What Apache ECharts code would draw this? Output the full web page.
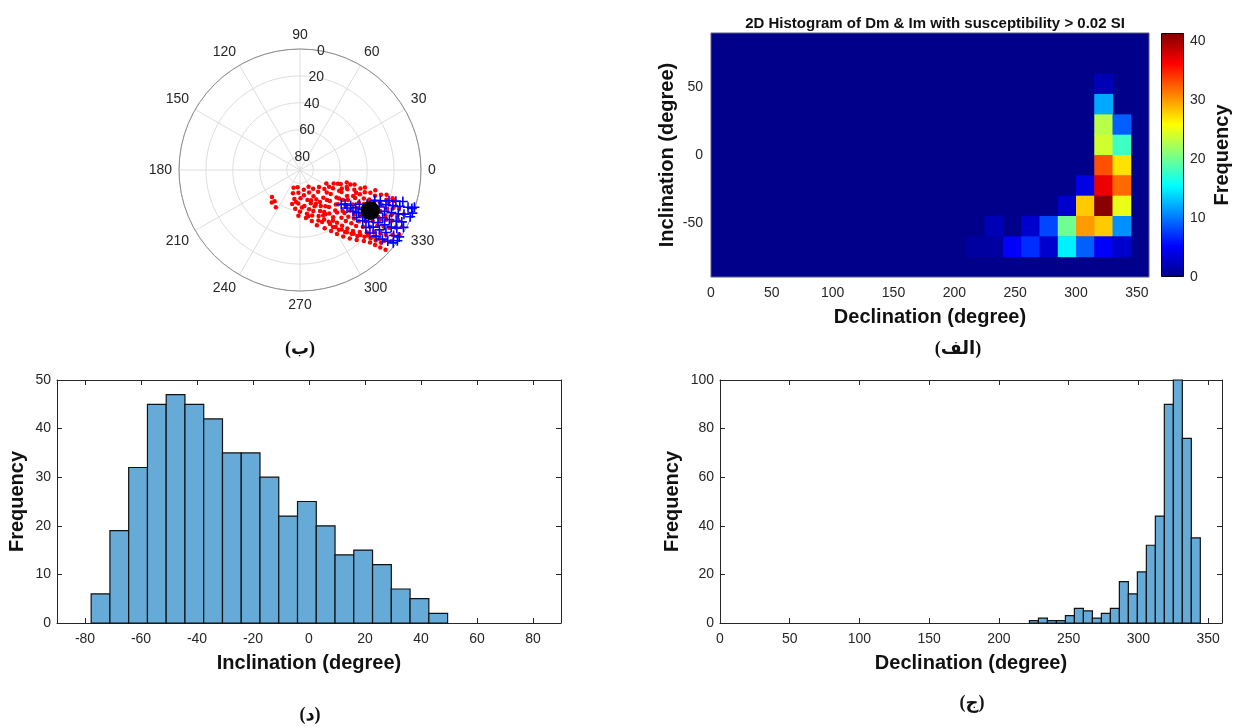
<!DOCTYPE html>
<html>
<head>
<meta charset="utf-8">
<script src="https://cdn.jsdelivr.net/npm/echarts@6/dist/echarts.min.js"></script>
<style>
html, body { margin: 0; padding: 0; background: #fff; }
#main { width: 1239px; height: 727px; }
</style>
</head>
<body>
<div id="main"></div>
<script>
// (ب) polar plot, points are [radial value, declination]
var redPoints = [
    [76,250],[77,262],[75,281],[76,297],
    [72,253],[73,266],[71,279],[72,292],[73,305],[71,318],
    [68,259],[69,271],[67,284],[68,297],[69,310],[67,322],[68,333],
    [64,257],[65,267],[63,277],[64,288],[65,299],[63,310],[64,320],[65,330],[63,338],
    [61,224],[60,231],[61,263],[62,273],[60,283],[61,292],[62,302],[60,312],[61,322],[62,331],[60,340],
    [58,229],[57,237],[56,268],[57,279],[58,288],[56,296],[57,305],[58,314],[56,323],[57,332],[58,341],
    [54,277],[55,285],[53,292],[54,300],[55,308],[53,316],[54,324],[55,332],[53,340],[54,345],
    [51,283],[50,290],[52,297],[51,304],[50,311],[52,318],[51,325],[50,331],[52,338],[51,344],
    [47,287],[48,293],[46,299],[47,305],[48,311],[46,316],[47,322],[48,328],[46,334],[47,340],[48,345],
    [43,293],[44,299],[42,305],[43,311],[44,316],[42,321],[43,327],[44,333],[42,338],[43,343],
    [39,297],[40,302],[38,307],[39,312],[40,316],[38,321],[39,326],[40,331],[38,336],[39,341],[40,345],
    [35,300],[36,305],[34,309],[35,314],[36,318],[34,323],[35,328],[36,332],[34,337],[35,342],
    [31,303],[32,307],[30,311],[31,315],[32,319],[30,324],[31,328],[32,333],[30,337],[31,341],[32,345],
    [27,306],[28,310],[26,314],[27,318],[28,322],[26,326],[27,330],[28,334],[26,338],[27,343],
    [23,309],[24,313],[22,317],[23,321],[24,325],[22,329],[23,333],[24,337],[22,341],[23,344],
    [19,312],[20,316],[18,320],[19,324],[20,328],[18,332],[19,336],[20,340],[18,343],
    [15,314],[16,318],[14,322],[15,326],[16,330],[14,334],[15,338],[16,342],
    [11,315],[12,319],[10,323],[11,327],[12,331],[10,335],[11,339],
    [7,316],[8,320],[6,325],[7,329],[8,333],[6,337],
    [3,317],[4,322],[2,327],[3,331],
    [66,263],[66,290],[62,295],[59,270],[59,300],[55,280],[52,300],[49,296],[45,303],[41,300],
    [37,303],[33,306],[29,309],[25,311],[21,314],[17,316],[13,317],[9,318],[56,336],[45,338]
];
var bluePoints = [
    [50,320],[48,323],[45,321],[44,325],[40,322],[40,326],[39,330],
    [35,320],[36,324],[35,328],[34,333],
    [30,321],[31,325],[30,329],[29,334],[30,338],
    [25,319],[26,323],[25,327],[24,331],[25,335],[26,339],
    [20,318],[21,322],[20,326],[19,330],[20,334],[21,338],[20,341],
    [15,319],[16,323],[15,327],[14,331],[15,335],[16,339],[15,342],
    [10,320],[11,324],[10,328],[9,332],[10,336],[11,340],[10,343],
    [6,321],[5,325],[6,329],[5,333],[6,337],[5,341],
    [2,322],[1,326],[2,331],[1,337],[2,341],
    [0.5,324],[0.5,339],[0.5,342]
];
var meanPoint = [[29.8, 330]];

// (الف) 2D histogram, bins of 15 degrees
var heatBin = 15;
var heatDec = [210, 225, 240, 255, 270, 285, 300, 315, 330];
var heatInc = [45, 30, 15, 0, -15, -30, -45, -60, -75];
var heatCounts = [
    [0, 0, 0, 0, 0, 0, 0, 2, 0],
    [0, 0, 0, 0, 0, 0, 0, 12, 0],
    [0, 0, 0, 0, 0, 0, 0, 23, 9],
    [0, 0, 0, 0, 0, 0, 0, 24, 18],
    [0, 0, 0, 0, 0, 0, 0, 33, 27],
    [0, 0, 0, 0, 0, 0, 4, 37, 32],
    [0, 0, 0, 0, 0, 3, 28, 41, 25],
    [0, 2, 0, 3, 8, 20, 30, 28, 11],
    [1, 1, 5, 7, 3, 15, 9, 5, 3]
];
var cbMax = 41.4;

// (د) inclination histogram
var incStart = -77.8, incWidth = 6.7;
var incCounts = [6, 19, 32, 45, 47, 45, 42, 35, 35, 30, 22, 25, 20, 14, 15, 12, 7, 5, 2];

// (ج) declination histogram
var decStart = 221.9, decWidth = 6.45;
var decCounts = [1, 2, 1, 1, 3, 6, 5, 2, 4, 6, 17, 12, 21, 32, 44, 90, 100, 76, 35];

var jet = ['#00008A', '#0000FF', '#0080FF', '#00FFFF', '#80FF80', '#FFFF00', '#FF8000', '#FF0000', '#800000'];
var FONT = 'Liberation Sans, Arial, sans-serif';
var tickColor = '#262626';

var heatData = [];
heatInc.forEach(function (inc, r) {
    heatDec.forEach(function (dec, c) {
        if (heatCounts[r][c] > 0) heatData.push([dec, inc, heatCounts[r][c]]);
    });
});

function histData(start, width, counts) {
    return counts.map(function (c, i) {
        return [start + i * width, start + (i + 1) * width, c];
    });
}

function histItem(params, api) {
    var p0 = api.coord([api.value(0), 0]);
    var p1 = api.coord([api.value(1), api.value(2)]);
    return {
        type: 'rect',
        shape: { x: p0[0], y: p1[1], width: p1[0] - p0[0], height: p0[1] - p1[1] },
        style: { fill: '#66AAD7', stroke: '#111', lineWidth: 1.2 }
    };
}

function cellItem(params, api) {
    var p0 = api.coord([api.value(0), api.value(1) + heatBin]);
    var p1 = api.coord([api.value(0) + heatBin, api.value(1)]);
    return {
        type: 'rect',
        shape: { x: p0[0], y: p0[1], width: p1[0] - p0[0] + 0.5, height: p1[1] - p0[1] + 0.5 },
        style: { fill: api.visual('color') }
    };
}

var nameStyle = { fontSize: 20, fontWeight: 'bold', color: '#111', fontFamily: FONT };
var labelStyle = { fontSize: 14, color: tickColor, fontFamily: FONT };

function boxAxis(pos, grid, min, max, ticks) {
    return {
        gridIndex: grid, type: 'value', position: pos, min: min, max: max,
        axisLine: { show: true, onZero: false, lineStyle: { color: tickColor, width: 1 } },
        axisTick: { show: true, inside: true, length: 5, customValues: ticks, lineStyle: { color: tickColor } },
        axisLabel: { show: false },
        splitLine: { show: false }
    };
}

var dom = document.getElementById('main');
var myChart = echarts.init(dom);
var option = {
    animation: false,
    backgroundColor: '#fff',
    textStyle: { fontFamily: FONT },
    title: {
        text: '2D Histogram of Dm & Im with susceptibility > 0.02 SI',
        left: 930, top: 11, textAlign: 'center',
        textStyle: { fontSize: 15, fontWeight: 'bold', color: '#111', fontFamily: FONT }
    },
    polar: [
        { center: [300, 170], radius: 121 },
        { center: [300, 170], radius: 121 }
    ],
    angleAxis: [
        {
            polarIndex: 0, type: 'value', min: 0, max: 360, interval: 30,
            startAngle: 0, clockwise: false,
            axisLine: { lineStyle: { color: '#8c8c8c', width: 1 } },
            axisTick: { show: false },
            axisLabel: { margin: 7, fontSize: 14, color: tickColor, fontFamily: FONT },
            splitLine: { show: true, lineStyle: { color: '#dedede' } }
        },
        {
            polarIndex: 1, type: 'value', min: 0, max: 360, startAngle: 80, clockwise: false,
            axisLine: { show: false }, axisTick: { show: false },
            axisLabel: { show: false }, splitLine: { show: false }
        }
    ],
    radiusAxis: [
        {
            polarIndex: 0, type: 'value', min: 0, max: 90, interval: 20, inverse: true,
            axisLine: { show: false }, axisTick: { show: false }, axisLabel: { show: false },
            splitLine: { show: true, lineStyle: { color: '#dedede' } }
        },
        {
            polarIndex: 1, type: 'value', min: 0, max: 90, interval: 20, inverse: true,
            axisLine: { show: false }, axisTick: { show: false }, splitLine: { show: false },
            axisLabel: {
                margin: 0, align: 'center', verticalAlign: 'middle',
                fontSize: 14, color: tickColor, fontFamily: FONT,
                formatter: function (v) { return v === 90 ? '' : v; }
            }
        }
    ],
    grid: [
        { left: 711, top: 33, width: 438, height: 244, show: true, backgroundColor: jet[0], borderColor: '#5a5a8a', borderWidth: 1 },
        { left: 1161, top: 33, width: 23, height: 244 },
        { left: 57, top: 380, width: 504, height: 243 },
        { left: 720, top: 380, width: 502, height: 243 }
    ],
    xAxis: [
        {
            gridIndex: 0, type: 'value', min: 0, max: 360,
            axisLine: { show: false, onZero: false }, axisTick: { show: false }, splitLine: { show: false },
            axisLabel: Object.assign({ margin: 9, customValues: [0, 50, 100, 150, 200, 250, 300, 350] }, labelStyle),
            name: 'Declination (degree)', nameLocation: 'middle', nameGap: 30, nameTextStyle: nameStyle
        },
        { gridIndex: 1, type: 'category', data: [''], show: false },
        {
            gridIndex: 2, type: 'value', min: -90, max: 90,
            axisLine: { show: true, onZero: false, lineStyle: { color: tickColor } },
            axisTick: { show: true, inside: true, length: 5, customValues: [-80, -60, -40, -20, 0, 20, 40, 60, 80], lineStyle: { color: tickColor } },
            axisLabel: Object.assign({ margin: 9, customValues: [-80, -60, -40, -20, 0, 20, 40, 60, 80] }, labelStyle),
            splitLine: { show: false },
            name: 'Inclination (degree)', nameLocation: 'middle', nameGap: 30, nameTextStyle: nameStyle
        },
        boxAxis('top', 2, -90, 90, [-80, -60, -40, -20, 0, 20, 40, 60, 80]),
        {
            gridIndex: 3, type: 'value', min: 0, max: 360,
            axisLine: { show: true, onZero: false, lineStyle: { color: tickColor } },
            axisTick: { show: true, inside: true, length: 5, customValues: [0, 50, 100, 150, 200, 250, 300, 350], lineStyle: { color: tickColor } },
            axisLabel: Object.assign({ margin: 9, customValues: [0, 50, 100, 150, 200, 250, 300, 350] }, labelStyle),
            splitLine: { show: false },
            name: 'Declination (degree)', nameLocation: 'middle', nameGap: 30, nameTextStyle: nameStyle
        },
        boxAxis('top', 3, 0, 360, [0, 50, 100, 150, 200, 250, 300, 350])
    ],
    yAxis: [
        {
            gridIndex: 0, type: 'value', min: -90, max: 90,
            axisLine: { show: false, onZero: false }, axisTick: { show: false }, splitLine: { show: false },
            axisLabel: Object.assign({ margin: 8, customValues: [-50, 0, 50] }, labelStyle),
            name: 'Inclination (degree)', nameLocation: 'middle', nameGap: 34, nameRotate: 90, nameTextStyle: nameStyle
        },
        {
            gridIndex: 1, type: 'value', min: 0, max: cbMax, position: 'right',
            axisLine: { show: false, onZero: false }, axisTick: { show: false }, splitLine: { show: false },
            axisLabel: Object.assign({ margin: 6, customValues: [0, 10, 20, 30, 40] }, labelStyle),
            name: 'Frequency', nameLocation: 'middle', nameGap: 28, nameRotate: 90, nameTextStyle: nameStyle
        },
        {
            gridIndex: 2, type: 'value', min: 0, max: 50, interval: 10,
            axisLine: { show: true, onZero: false, lineStyle: { color: tickColor } },
            axisTick: { show: true, inside: true, length: 5, lineStyle: { color: tickColor } },
            axisLabel: Object.assign({ margin: 6 }, labelStyle),
            splitLine: { show: false },
            name: 'Frequency', nameLocation: 'middle', nameGap: 30, nameRotate: 90, nameTextStyle: nameStyle
        },
        boxAxis('right', 2, 0, 50, [0, 10, 20, 30, 40, 50]),
        {
            gridIndex: 3, type: 'value', min: 0, max: 100, interval: 20,
            axisLine: { show: true, onZero: false, lineStyle: { color: tickColor } },
            axisTick: { show: true, inside: true, length: 5, lineStyle: { color: tickColor } },
            axisLabel: Object.assign({ margin: 6 }, labelStyle),
            splitLine: { show: false },
            name: 'Frequency', nameLocation: 'middle', nameGap: 38, nameRotate: 90, nameTextStyle: nameStyle
        },
        boxAxis('right', 3, 0, 100, [0, 20, 40, 60, 80, 100])
    ],
    visualMap: {
        type: 'continuous', show: false, seriesIndex: 3, dimension: 2,
        min: 0, max: cbMax, inRange: { color: jet }
    },
    series: [
        {
            type: 'scatter', coordinateSystem: 'polar', polarIndex: 0,
            data: redPoints, symbol: 'circle', symbolSize: 4.5,
            itemStyle: { color: '#ff0000', opacity: 1 }, z: 3
        },
        {
            type: 'scatter', coordinateSystem: 'polar', polarIndex: 0,
            data: bluePoints, symbolSize: 10,
            symbol: 'path://M-1,-0.16L1,-0.16L1,0.16L-1,0.16Z M-0.16,-1L0.16,-1L0.16,1L-0.16,1Z',
            itemStyle: { color: '#0000ff', opacity: 1 }, z: 4
        },
        {
            type: 'scatter', coordinateSystem: 'polar', polarIndex: 0,
            data: meanPoint, symbolSize: 19,
            itemStyle: { color: '#000', opacity: 1 }, z: 5
        },
        {
            type: 'custom', xAxisIndex: 0, yAxisIndex: 0,
            renderItem: cellItem, data: heatData,
            encode: { x: 0, y: 1 }
        },
        {
            type: 'bar', xAxisIndex: 1, yAxisIndex: 1,
            data: [cbMax], barWidth: '100%', silent: true,
            itemStyle: {
                borderColor: '#000', borderWidth: 1,
                color: {
                    type: 'linear', x: 0, y: 1, x2: 0, y2: 0,
                    colorStops: jet.map(function (c, i) { return { offset: i / (jet.length - 1), color: c }; })
                }
            }
        },
        {
            type: 'custom', xAxisIndex: 2, yAxisIndex: 2,
            renderItem: histItem, data: histData(incStart, incWidth, incCounts),
            encode: { x: [0, 1], y: 2 }
        },
        {
            type: 'custom', xAxisIndex: 4, yAxisIndex: 4,
            renderItem: histItem, data: histData(decStart, decWidth, decCounts),
            encode: { x: [0, 1], y: 2 }
        }
    ],
    graphic: [
        { type: 'text', x: 300, y: 349, style: { text: '(ب)', fontSize: 18, fontWeight: 'bold', fontFamily: 'Liberation Serif, DejaVu Sans', fill: '#111', align: 'center', verticalAlign: 'middle' } },
        { type: 'text', x: 958, y: 349, style: { text: '(الف)', fontSize: 18, fontWeight: 'bold', fontFamily: 'Liberation Serif, DejaVu Sans', fill: '#111', align: 'center', verticalAlign: 'middle' } },
        { type: 'text', x: 310, y: 715, style: { text: '(د)', fontSize: 18, fontWeight: 'bold', fontFamily: 'Liberation Serif, DejaVu Sans', fill: '#111', align: 'center', verticalAlign: 'middle' } },
        { type: 'text', x: 972, y: 703, style: { text: '(ج)', fontSize: 18, fontWeight: 'bold', fontFamily: 'Liberation Serif, DejaVu Sans', fill: '#111', align: 'center', verticalAlign: 'middle' } }
    ]
};
myChart.setOption(option);
</script>
</body>
</html>
